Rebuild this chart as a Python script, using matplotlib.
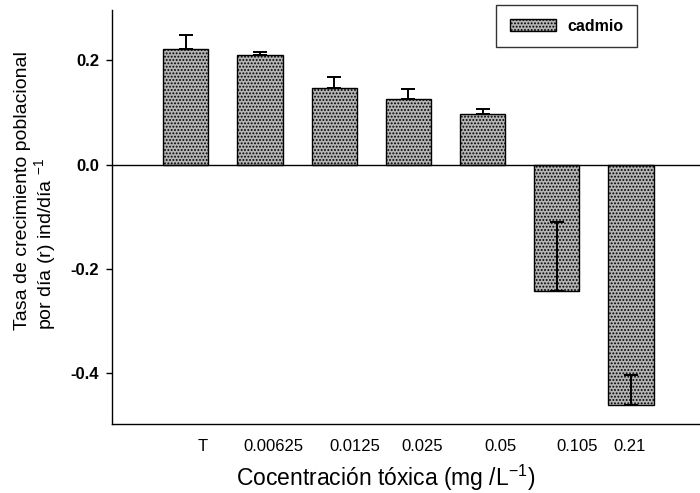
import matplotlib
matplotlib.use("Agg")
import matplotlib.pyplot as plt
import matplotlib.transforms as mtransforms
import numpy as np

plt.rcParams['font.family'] = ['Liberation Sans', 'DejaVu Sans']
plt.rcParams['mathtext.fontset'] = 'custom'
plt.rcParams['mathtext.rm'] = 'Liberation Sans'
plt.rcParams['mathtext.it'] = 'Liberation Sans'
plt.rcParams['axes.unicode_minus'] = False
plt.rcParams['hatch.color'] = '#303030'
plt.rcParams['hatch.linewidth'] = 0.9

# ---- data ----
categories = ['T', '0.00625', '0.0125', '0.025', '0.05', '0.105', '0.21']
rates = [0.222, 0.210, 0.146, 0.125, 0.096, -0.242, -0.460]
errors = [0.026, 0.005, 0.021, 0.019, 0.011, 0.131, 0.057]
series_name = 'cadmio'
yticks = [-0.4, -0.2, 0.0, 0.2]

# label offsets (pixels) as in the original layout
label_dx = [17, 14, 21, 14, 18, 20, -1]

fig = plt.figure(figsize=(7.0, 4.93), dpi=100)
ax = fig.add_axes([111.5 / 700, 1 - 424 / 493, 1 - 111.5 / 700, (424 - 10) / 493])

x = np.arange(len(categories))
bars = ax.bar(x, rates, width=0.61, color='#b4b4b4', edgecolor='black',
              linewidth=1.0, hatch='.....', label=series_name, zorder=2)
ax.errorbar(x, rates, yerr=[np.zeros(len(errors)), errors], fmt='none',
            ecolor='black', elinewidth=1.4, capsize=5, capthick=1.4, zorder=3)

ax.axhline(0, color='black', lw=1.0, zorder=4)

ax.set_xlim(-1.0, 6.93)
ax.set_ylim(-0.497, 0.296)

ax.spines['top'].set_visible(False)
ax.spines['right'].set_visible(False)
ax.spines['left'].set_linewidth(1.0)
ax.spines['bottom'].set_linewidth(1.0)

ax.set_yticks(yticks)
ax.set_yticklabels([f'{v:.1f}' for v in yticks], fontsize=12, fontweight='bold')
ax.tick_params(axis='y', direction='out', length=4, width=1, pad=5)

ax.set_xticks(x)
ax.set_xticklabels(categories, fontsize=12)
ax.tick_params(axis='x', length=0, pad=11)
for lab, dx in zip(ax.get_xticklabels(), label_dx):
    lab.set_transform(lab.get_transform() +
                      mtransforms.ScaledTranslation(dx / 100, 0, fig.dpi_scale_trans))

ax.set_xlabel('Cocentración tóxica (mg /L$^{-1}$)', fontsize=16.5)
ax.xaxis.set_label_coords((385.5 - 111.5) / 588.5, (424 - 463) / 414)

ax.set_ylabel('Tasa de crecimiento poblacional\npor día (r) ind/día $^{-1}$',
              fontsize=14, multialignment='left', linespacing=1.05)
ax.yaxis.set_label_coords((58 - 111.5) / 588.5, (424 - 191) / 414)

leg = ax.legend(loc='upper right', bbox_to_anchor=(637 / 700, 1 - 5 / 493),
                bbox_transform=fig.transFigure, frameon=True, fancybox=False,
                edgecolor='black', handlelength=2.9, handleheight=0.72,
                handletextpad=0.7, borderpad=0.85, borderaxespad=0,
                prop={'size': 11.5, 'weight': 'bold'})
leg.get_frame().set_linewidth(1.0)

fig.savefig('out.png', dpi=100)
